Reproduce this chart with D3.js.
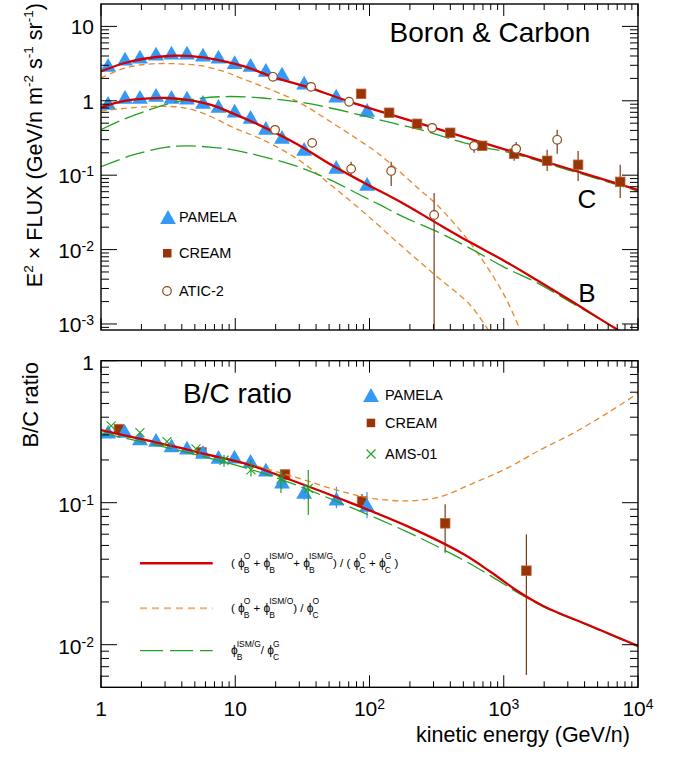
<!DOCTYPE html>
<html><head><meta charset="utf-8">
<script src="https://cdn.jsdelivr.net/npm/d3@7"></script>
<style>
body{margin:0;background:#fff}
svg{display:block}
text{font-family:"Liberation Sans",Arial,Helvetica,sans-serif;fill:#000}
</style>
</head><body>
<svg id="chart" width="680" height="758"></svg>
<script>
// ---------- measured fluxes (E^2 x flux) ----------
const pamelaE = [1.13,1.51,1.95,2.57,3.35,4.37,5.75,7.5,9.9,13.0,16.9,22.3,32.6,56.5,96];
const pamelaC = [3.05,3.68,3.91,4.29,4.43,4.43,4.16,3.91,3.3,3.05,2.61,2.31,1.75,1.17,0.757];
const pamelaB = [0.94,1.13,1.13,1.20,1.13,1.10,0.97,0.857,0.74,0.609,0.433,0.328,0.226,0.129,0.0764];

const creamCE = [86.6,140,226,399,691,1195,2105,3580,7370];
const creamC = [1.24,0.69,0.49,0.371,0.248,0.194,0.156,0.138,0.0813];
const creamCLo = [1.24,0.69,0.49,0.371,0.248,0.156,0.114,0.0838,0.0495];
const creamCHi = [1.24,0.69,0.49,0.371,0.248,0.219,0.219,0.212,0.138];

const aticCE = [19.1,36.7,70.5,293,601,1237,2500];
const aticC = [2.10,1.54,0.97,0.433,0.248,0.226,0.299];
const aticCLo = [2.10,1.54,0.97,0.433,0.2,0.182,0.194];
const aticCHi = [2.10,1.54,0.97,0.433,0.299,0.28,0.407];

const aticBE = [19.8,37.4,73,145,303];
const aticB = [0.407,0.272,0.1216,0.114,0.0292];
const aticBLo = [0.407,0.272,0.095,0.0718,0.00001];
const aticBHi = [0.407,0.272,0.151,0.151,0.0578];

// ---------- model curves, flux panel ----------
const cTotE = [1,1.5,2.3,3.5,5.5,8,12,19,37,70,120,300,1000,3000,10000];
const cTot = [2.48,3.22,3.76,4.03,3.87,3.45,2.85,2.10,1.47,0.98,0.72,0.435,0.224,0.123,0.0634];
const cPrimE = [1,1.5,2.3,3.5,5.5,8.4,10.8,16,29,51,90,120,238,319,562,989,1325];
const cPrim = [2.02,2.75,3.12,3.15,2.96,2.45,2.05,1.56,0.98,0.526,0.27,0.187,0.0634,0.0398,0.0123,0.0026,0.00083];
const cGalE = [1,1.5,2.3,3.5,5.5,8.4,12,16,29,51,90,150,238,420,670,1000,3000,10000];
const cGal = [0.41,0.57,0.76,0.95,1.08,1.14,1.13,1.09,0.97,0.80,0.63,0.50,0.41,0.30,0.238,0.21,0.118,0.061];

const bTotE = [1,1.5,2.3,3.1,4.4,6.5,9.2,16,29,51,90,177,319,562,989,1760,3100,7100,10000];
const bTot = [0.82,1.0,1.08,1.09,1.03,0.89,0.70,0.45,0.26,0.14,0.08,0.042,0.0225,0.0125,0.0072,0.0039,0.0021,0.00083,0.00059];
const bPrimE = [1,1.5,2.2,2.9,4.4,6.5,9.6,16,29,51,90,177,319,562,765];
const bPrim = [0.73,0.79,0.83,0.845,0.79,0.62,0.44,0.30,0.165,0.075,0.032,0.0108,0.0043,0.0018,0.00083];
const bGalE = [1,1.73,3.1,4.4,6.5,9.2,16,29,51,90,120,177,319,562,989,1760,3100,10000];
const bGal = [0.13,0.187,0.238,0.248,0.238,0.222,0.178,0.131,0.0865,0.0515,0.0398,0.0277,0.0174,0.0104,0.0059,0.0036,0.0020,0.00058];

// ---------- B/C ratio ----------
const pamelaRE = [1.13,1.50,1.95,2.57,3.35,4.37,5.75,7.5,9.87,13.0,16.9,22.3,32.6,56.7,95.8];
const pamelaR = [0.316,0.321,0.284,0.277,0.253,0.244,0.228,0.21,0.211,0.197,0.171,0.141,0.119,0.107,0.0964];
const pamelaRLo = [0.316,0.321,0.284,0.277,0.253,0.244,0.228,0.21,0.211,0.197,0.171,0.125,0.105,0.0914,0.0776];
const pamelaRHi = [0.316,0.321,0.284,0.277,0.253,0.244,0.228,0.21,0.211,0.197,0.171,0.158,0.133,0.1297,0.119];

const creamRE = [1.36,5.6,23.5,88,366,1474];
const creamR = [0.33,0.226,0.158,0.1025,0.0716,0.0332];
const creamRLo = [0.33,0.21,0.158,0.087,0.0445,0.00612];
const creamRHi = [0.33,0.226,0.158,0.115,0.0975,0.0599];

const amsE = [1.19,1.95,3.10,5.1,8.25,13.1,21.9,35.0];
const ams = [0.347,0.311,0.269,0.239,0.199,0.170,0.147,0.126];
const amsLo = [0.347,0.311,0.269,0.239,0.179,0.153,0.117,0.0819];
const amsHi = [0.347,0.311,0.269,0.239,0.217,0.2,0.169,0.170];

const rTotE = [1,2,3.56,6,12.9,25.7,60,200,500,800,1300,2000,4390,10000];
const rTot = [0.325,0.28,0.248,0.22,0.184,0.145,0.107,0.067,0.0435,0.0325,0.0235,0.0186,0.0136,0.0098];
const rPrimE = [1,2,3.56,6,12.9,25.7,60,100,190,335,590,1060,1860,3280,5870,10000];
const rPrim = [0.325,0.28,0.248,0.22,0.186,0.155,0.121,0.108,0.103,0.110,0.137,0.175,0.235,0.308,0.426,0.589];
const rGalE = [1,3.56,12.9,25.7,60,200,500,800,1300,2000,4390,10000];
const rGal = [0.31,0.237,0.172,0.138,0.1,0.061,0.0395,0.0305,0.023,0.0184,0.0135,0.0097];

const xTicks = [1,10,100,1000,10000];
const xTickExp = [0,1,2,3,4];
const topTicks = [10,1,0.1,0.01,0.001];
const topTickExp = [1,0,-1,-2,-3];
const botTicks = [1,0.1,0.01];
const botTickExp = [0,-1,-2];

// ---------- styles ----------
const RED = "#d40000", ORANGE = "#e8882a", GREEN = "#22a022";
const BLUE = "#3399f5", BROWN = "#9a3306", BROWN_LINE = "#7a3a10";
const TRI = 250;

const svg = d3.select("#chart");
const L = 101, R = 638;
const x = d3.scaleLog().domain([1, 1e4]).range([L, R]);
const topPanel = {y0: 4, y1: 330};
const botPanel = {y0: 360.7, y1: 687.3};
const yTop = d3.scaleLog().domain([Math.pow(10,-3.081), Math.pow(10,1.301)]).range([topPanel.y1, topPanel.y0]);
const yBot = d3.scaleLog().domain([Math.pow(10,-2.3), 1]).range([botPanel.y1, botPanel.y0]);

const defs = svg.append("defs");
[["clipTop", topPanel], ["clipBot", botPanel]].forEach(([id, p]) => {
  defs.append("clipPath").attr("id", id).append("rect")
    .attr("x", L).attr("y", p.y0).attr("width", R - L).attr("height", p.y1 - p.y0);
});

// visually centred upward triangle
const triUp = {draw(ctx, size) {
  const s = Math.sqrt(size), h = s * 0.87;
  ctx.moveTo(0, -h / 2); ctx.lineTo(s / 2, h / 2); ctx.lineTo(-s / 2, h / 2); ctx.closePath();
}};

function curve(g, y, es, vs, color, width, dash) {
  const line = d3.line().x(d => x(d[0])).y(d => y(d[1])).curve(d3.curveCatmullRom.alpha(0.5));
  g.append("path").datum(es.map((e, i) => [e, vs[i]]))
    .attr("d", line).attr("fill", "none").attr("stroke", color)
    .attr("stroke-width", width).attr("stroke-dasharray", dash || null);
}
function errBars(g, y, es, lo, hi, color) {
  es.forEach((e, i) => {
    if (lo[i] === hi[i]) return;
    g.append("line").attr("x1", x(e)).attr("x2", x(e))
      .attr("y1", y(lo[i])).attr("y2", y(hi[i]))
      .attr("stroke", color).attr("stroke-width", 1.2);
  });
}
function triangles(g, y, es, vs) {
  g.selectAll(null).data(es.map((e, i) => [e, vs[i]])).enter().append("path")
    .attr("d", d3.symbol().type(triUp).size(TRI))
    .attr("transform", d => `translate(${x(d[0])},${y(d[1])})`)
    .attr("fill", BLUE);
}
function squares(g, y, es, vs) {
  g.selectAll(null).data(es.map((e, i) => [e, vs[i]])).enter().append("rect")
    .attr("x", d => x(d[0]) - 4.8).attr("y", d => y(d[1]) - 4.8)
    .attr("width", 9.6).attr("height", 9.6)
    .attr("fill", BROWN).attr("stroke", "#b86a40").attr("stroke-width", 0.8);
}
function circles(g, y, es, vs) {
  g.selectAll(null).data(es.map((e, i) => [e, vs[i]])).enter().append("circle")
    .attr("cx", d => x(d[0])).attr("cy", d => y(d[1])).attr("r", 4.3)
    .attr("fill", "#fff").attr("stroke", "#8b4a1c").attr("stroke-width", 1.2);
}
function crosses(g, y, es, vs) {
  es.forEach((e, i) => {
    const cx = x(e), cy = y(vs[i]), s = 4.5;
    g.append("path").attr("d", `M${cx-s},${cy-s}L${cx+s},${cy+s}M${cx-s},${cy+s}L${cx+s},${cy-s}`)
      .attr("stroke", GREEN).attr("stroke-width", 1.1).attr("fill", "none");
  });
}

// axes frame and log ticks on all four sides
function frame(p, y) {
  const g = svg.append("g");
  const [ylo, yhi] = y.domain();
  for (let d = 1; d <= 1e4; d *= 10) for (let k = 1; k < 10; k++) {
    const v = d * k; if (v > 1e4) break;
    const len = k === 1 ? 12 : 6, px = x(v);
    g.append("line").attr("x1", px).attr("x2", px).attr("y1", p.y1).attr("y2", p.y1 - len).attr("stroke", "#000");
    g.append("line").attr("x1", px).attr("x2", px).attr("y1", p.y0).attr("y2", p.y0 + len).attr("stroke", "#000");
  }
  const dmin = Math.floor(Math.log10(ylo)), dmax = Math.ceil(Math.log10(yhi));
  for (let e = dmin; e <= dmax; e++) for (let k = 1; k < 10; k++) {
    const v = k * Math.pow(10, e); if (v < ylo || v > yhi) continue;
    const len = k === 1 ? 16 : 8, py = y(v);
    g.append("line").attr("x1", L).attr("x2", L + len).attr("y1", py).attr("y2", py).attr("stroke", "#000");
    g.append("line").attr("x1", R).attr("x2", R - len).attr("y1", py).attr("y2", py).attr("stroke", "#000");
  }
  g.append("rect").attr("x", L).attr("y", p.y0).attr("width", R - L).attr("height", p.y1 - p.y0)
    .attr("fill", "none").attr("stroke", "#000").attr("stroke-width", 1.4);
}
function powLabel(sel, exp) {
  if (exp === 0) { sel.append("tspan").text("1"); return; }
  if (exp === 1) { sel.append("tspan").text("10"); return; }
  sel.append("tspan").text("10");
  sel.append("tspan").attr("font-size", 14).attr("dy", -7).text(exp < 0 ? "-" + (-exp) : String(exp));
}

// ---------------- upper panel ----------------
const gt = svg.append("g").attr("clip-path", "url(#clipTop)");
triangles(gt, yTop, pamelaE, pamelaC);
triangles(gt, yTop, pamelaE, pamelaB);
curve(gt, yTop, cPrimE, cPrim, ORANGE, 1.3, "6,4");
curve(gt, yTop, bPrimE, bPrim, ORANGE, 1.3, "6,4");
curve(gt, yTop, cGalE, cGal, GREEN, 1.3, "20,6");
curve(gt, yTop, bGalE, bGal, GREEN, 1.3, "20,6");
curve(gt, yTop, cTotE, cTot, RED, 2.3);
curve(gt, yTop, bTotE, bTot, RED, 2.3);
errBars(gt, yTop, creamCE, creamCLo, creamCHi, BROWN_LINE);
errBars(gt, yTop, aticCE, aticCLo, aticCHi, BROWN_LINE);
errBars(gt, yTop, aticBE, aticBLo, aticBHi, BROWN_LINE);
squares(gt, yTop, creamCE, creamC);
circles(gt, yTop, aticCE, aticC);
circles(gt, yTop, aticBE, aticB);
frame(topPanel, yTop);

topTicks.forEach((v, i) => {
  const t = svg.append("text").attr("x", 94).attr("y", yTop(v) + 8)
    .attr("text-anchor", "end").attr("font-size", 21);
  powLabel(t, topTickExp[i]);
});

svg.append("text").attr("x", 490).attr("y", 42).attr("text-anchor", "middle")
  .attr("font-size", 28).text("Boron & Carbon");
svg.append("text").attr("x", 587).attr("y", 208).attr("text-anchor", "middle")
  .attr("font-size", 26).text("C");
svg.append("text").attr("x", 587).attr("y", 302).attr("text-anchor", "middle")
  .attr("font-size", 26).text("B");

// y title, upper panel
{
  const t = svg.append("text").attr("transform", "translate(42,3) rotate(-90)")
    .attr("text-anchor", "end").attr("font-size", 21.6);
  t.append("tspan").text("E");
  t.append("tspan").attr("font-size", 13.5).attr("dy", -9).text("2");
  t.append("tspan").attr("dy", 9).text(" \u00d7 FLUX (GeV/n m");
  t.append("tspan").attr("font-size", 13.5).attr("dy", -9).text("-2");
  t.append("tspan").attr("dy", 9).text(" s");
  t.append("tspan").attr("font-size", 13.5).attr("dy", -9).text("-1");
  t.append("tspan").attr("dy", 9).text(" sr");
  t.append("tspan").attr("font-size", 13.5).attr("dy", -9).text("-1");
  t.append("tspan").attr("dy", 9).text(")");
}

// legend, upper panel
{
  const g = svg.append("g");
  g.append("path").attr("d", d3.symbol().type(triUp).size(TRI)).attr("transform", "translate(168,217)").attr("fill", BLUE);
  g.append("rect").attr("x", 163).attr("y", 249).attr("width", 8.5).attr("height", 8.5).attr("fill", BROWN);
  g.append("circle").attr("cx", 167).attr("cy", 291).attr("r", 4.3).attr("fill", "#fff").attr("stroke", "#8b4a1c").attr("stroke-width", 1.2);
  [["PAMELA", 217], ["CREAM", 253], ["ATIC-2", 291]].forEach(([s, yy]) =>
    g.append("text").attr("x", 179).attr("y", yy + 5.2).attr("font-size", 14.5).text(s));
}

// ---------------- lower panel ----------------
const gb = svg.append("g").attr("clip-path", "url(#clipBot)");
errBars(gb, yBot, creamRE, creamRLo, creamRHi, BROWN_LINE);
squares(gb, yBot, creamRE, creamR);
errBars(gb, yBot, pamelaRE, pamelaRLo, pamelaRHi, BLUE);
triangles(gb, yBot, pamelaRE, pamelaR);
curve(gb, yBot, rPrimE, rPrim, ORANGE, 1.3, "6,4");
curve(gb, yBot, rGalE, rGal, GREEN, 1.3, "20,6");
curve(gb, yBot, rTotE, rTot, RED, 2.3);
errBars(gb, yBot, amsE, amsLo, amsHi, GREEN);
crosses(gb, yBot, amsE, ams);
frame(botPanel, yBot);

botTicks.forEach((v, i) => {
  const t = svg.append("text").attr("x", 94).attr("y", yBot(v) + 9)
    .attr("text-anchor", "end").attr("font-size", 21);
  powLabel(t, botTickExp[i]);
});
xTicks.forEach((v, i) => {
  const t = svg.append("text").attr("x", x(v)).attr("y", 716)
    .attr("text-anchor", "middle").attr("font-size", 21);
  powLabel(t, xTickExp[i]);
});

svg.append("text").attr("x", 630).attr("y", 742).attr("text-anchor", "end")
  .attr("font-size", 21.5).text("kinetic energy (GeV/n)");
svg.append("text").attr("transform", "translate(38,362) rotate(-90)")
  .attr("text-anchor", "end").attr("font-size", 22).text("B/C ratio");
svg.append("text").attr("x", 183).attr("y", 402.7).attr("font-size", 28).text("B/C ratio");

// marker legend, lower panel
{
  const g = svg.append("g");
  g.append("path").attr("d", d3.symbol().type(triUp).size(TRI)).attr("transform", "translate(371,395)").attr("fill", BLUE);
  g.append("rect").attr("x", 366.7).attr("y", 418.7).attr("width", 8.5).attr("height", 8.5).attr("fill", BROWN);
  g.append("path").attr("d", "M366.5,449.5L375.5,458.5M366.5,458.5L375.5,449.5").attr("stroke", GREEN).attr("stroke-width", 1.1);
  [["PAMELA", 395], ["CREAM", 423], ["AMS-01", 454]].forEach(([s, yy]) =>
    g.append("text").attr("x", 385).attr("y", yy + 5.2).attr("font-size", 14.5).text(s));
}

// curve legend with stacked super/subscripts
function formula(x0, y0, parts) {
  let cx = x0;
  const g = svg.append("g");
  parts.forEach(p => {
    if (typeof p === "string") {
      const t = g.append("text").attr("x", cx).attr("y", y0).attr("font-size", 11.5).attr("xml:space", "preserve").text(p);
      cx += t.node().getComputedTextLength();
    } else {
      const t = g.append("text").attr("x", cx).attr("y", y0).attr("font-size", 12).text("\u03d5");
      cx += t.node().getComputedTextLength() - 1;
      const a = g.append("text").attr("x", cx).attr("y", y0 - 7.5).attr("font-size", 8.5).text(p[0]);
      const b = g.append("text").attr("x", cx).attr("y", y0 + 6).attr("font-size", 8.5).text(p[1]);
      cx += Math.max(a.node().getComputedTextLength(), b.node().getComputedTextLength());
    }
  });
}
svg.append("line").attr("x1", 140).attr("x2", 212.7).attr("y1", 563.3).attr("y2", 563.3).attr("stroke", RED).attr("stroke-width", 2.4);
svg.append("line").attr("x1", 140).attr("x2", 212.7).attr("y1", 608.3).attr("y2", 608.3).attr("stroke", "#f0b27a").attr("stroke-width", 2).attr("stroke-dasharray", "7,5");
svg.append("line").attr("x1", 140).attr("x2", 212.7).attr("y1", 650.7).attr("y2", 650.7).attr("stroke", GREEN).attr("stroke-width", 1.3).attr("stroke-dasharray", "23,7");
formula(231, 566.5, ["( ", ["O","B"], " + ", ["ISM/O","B"], "+ ", ["ISM/G","B"], ") / ( ", ["O","C"], " + ", ["G","C"], " )"]);
formula(231, 611.5, ["( ", ["O","B"], " + ", ["ISM/O","B"], ") / ", ["O","C"]]);
formula(231, 654, [["ISM/G","B"], "/ ", ["G","C"]]);
</script>
</body></html>
